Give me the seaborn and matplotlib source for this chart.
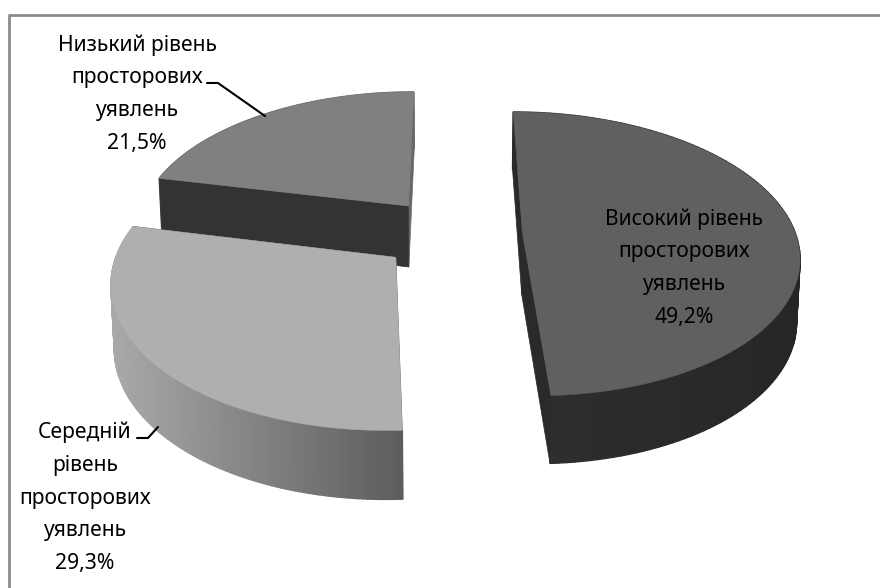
import numpy as np
import matplotlib
matplotlib.use("Agg")
import matplotlib.pyplot as plt
import seaborn as sns

# chart data
levels = ["Високий", "Середній", "Низький"]
shares = [49.2, 29.3, 21.5]
draw_order = ["Низький", "Високий", "Середній"]

top_colors = {"Високий": "#606060", "Середній": "#afafaf", "Низький": "#808080"}
side_colors = {
    "Високий": ["#2f2f2f", "#262626"],
    "Середній": ["#a8a8a8", "#5d5d5d"],
    "Низький": ["#686868", "#686868"],
}
# colour of the closing cut, then of the opening cut
cut_colors = {
    "Високий": ["#2a2a2a", "#2a2a2a"],
    "Середній": ["#5d5d5d", "#5d5d5d"],
    "Низький": ["#686868", "#333333"],
}

labels = {
    "Високий": "Високий рівень\nпросторових\nуявлень\n49,2%",
    "Середній": "Середній\nрівень\nпросторових\nуявлень\n29,3%",
    "Низький": "Низький рівень\nпросторових\nуявлень\n21,5%",
}

# fake 3d camera, fitted by eye to the picture
START_ANGLE = 0.0
EXPLODE = 0.26
X0, Y0 = 451.5, 233.4
SCALE_X, SCALE_Y = 273.0, 139.0
PERSPECTIVE_X, PERSPECTIVE_Y = 0.15, 0.151
DEPTH = 62.0


def project(x, y, down=False):
    wx = 1 + PERSPECTIVE_X * y
    wy = 1 + PERSPECTIVE_Y * y
    px = X0 + SCALE_X * x / wx
    py = Y0 - SCALE_Y * y / wy
    if down:
        px = X0 + (px - X0) * 0.99
        py = py + DEPTH / wy ** 0.55
    return px, py


def draw_slice(ax, name, t0, t1):
    mid = np.radians((t0 + t1) / 2)
    ox = EXPLODE * np.sin(mid)
    oy = EXPLODE * np.cos(mid)
    t = np.radians(np.linspace(t0, t1, 121))
    xs = ox + np.sin(t)
    ys = oy + np.cos(t)

    tx, ty = project(xs, ys)
    bx, by = project(xs, ys, down=True)
    ax0, ay0 = project(ox, oy)
    ax1, ay1 = project(ox, oy, down=True)

    # outer wall, shaded left to right
    shades = sns.blend_palette(side_colors[name], n_colors=64)
    span = max(tx.max() - tx.min(), 1)
    for i in range(len(t) - 1):
        k = int((tx[i] - tx.min()) / span * 63)
        ax.fill([tx[i], tx[i + 1], bx[i + 1], bx[i]],
                [ty[i], ty[i + 1], by[i + 1], by[i]],
                color=shades[k], lw=1.0, zorder=1)

    # the two cut faces
    for i, cut in zip((-1, 0), cut_colors[name]):
        ax.fill([ax0, tx[i], bx[i], ax1], [ay0, ty[i], by[i], ay1],
                color=cut, lw=0.5, zorder=1)

    # top face
    ax.fill(np.r_[ax0, tx], np.r_[ay0, ty], color=top_colors[name], lw=0.3, zorder=1)


sns.set_theme(style="white")
plt.rcParams["font.family"] = ["Noto Sans", "DejaVu Sans"]

fig = plt.figure(figsize=(8.8, 5.88), dpi=100)
ax = fig.add_axes([0, 0, 1, 1])
ax.set_xlim(0, 880)
ax.set_ylim(588, 0)
ax.axis("off")

# chart frame, only top and left fall inside the crop
ax.plot([9, 9, 880], [588, 15, 15], color="#8a8a8a", lw=2, zorder=0, solid_capstyle="butt")

# slice angles come from the shares
angles = {}
current = START_ANGLE
for name, share in zip(levels, shares):
    angles[name] = (current, current + share * 3.6)
    current += share * 3.6

for name in draw_order:
    draw_slice(ax, name, *angles[name])

text_style = dict(ha="center", va="center", fontsize=15.2, linespacing=1.73, color="black", zorder=3)
ax.text(684, 268, labels["Високий"], **text_style)
ax.text(85, 498, labels["Середній"], **text_style)
ax.text(137, 94, labels["Низький"], **text_style)

# leader lines
ax.plot([207, 218, 265], [83, 83, 116], color="black", lw=1.5, zorder=2)
ax.plot([137, 148, 158], [438, 438, 427], color="black", lw=1.5, zorder=2)

fig.savefig("out.png", dpi=100)
